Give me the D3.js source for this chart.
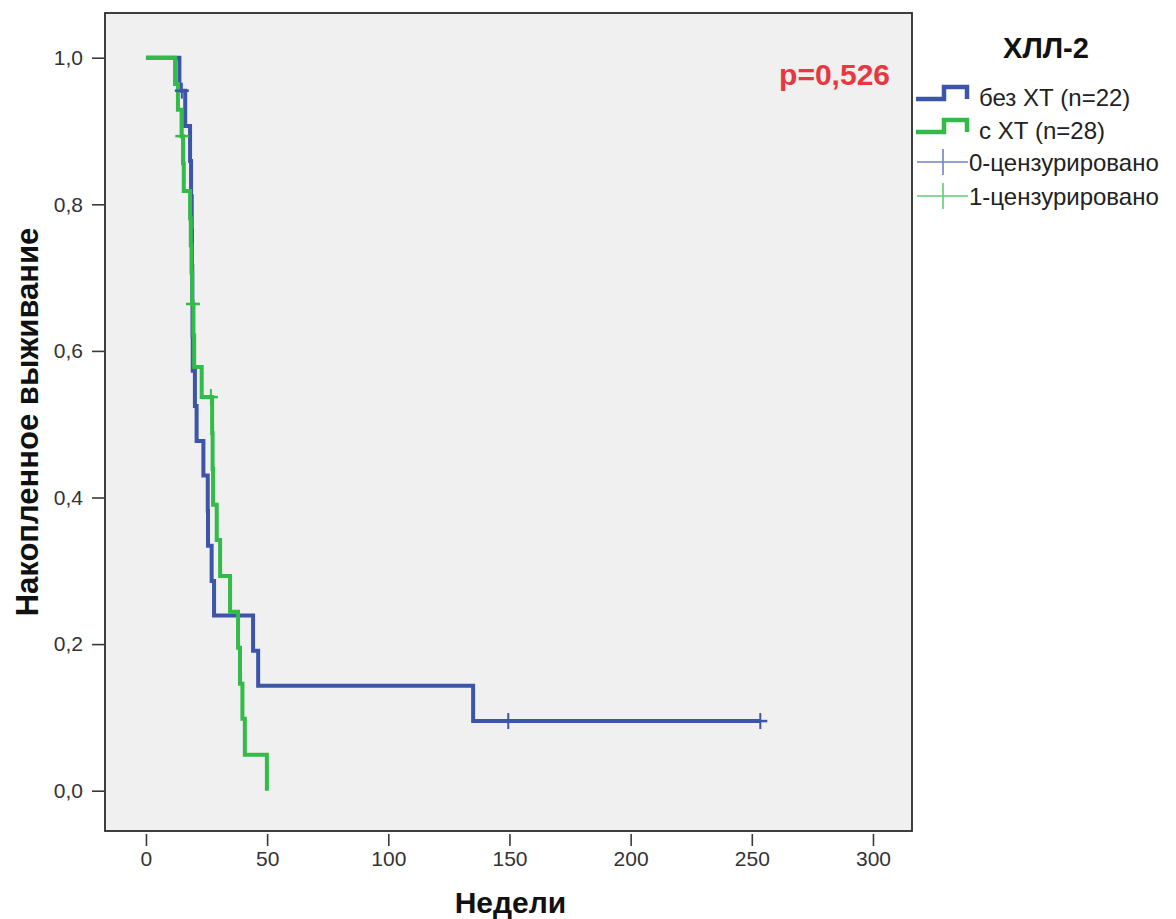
<!DOCTYPE html>
<html><head><meta charset="utf-8">
<script src="https://cdn.jsdelivr.net/npm/d3@7"></script>
<style>body{margin:0;background:#fff} svg{display:block}</style>
</head><body><svg id="c" width="1176" height="919"></svg>
<script>
// ---------- data ----------
const groupTitle = "ХЛЛ-2";
const seriesNames = ["без ХТ (n=22)", "с ХТ (n=28)"];
const censorNames = ["0-цензурировано", "1-цензурировано"];
const pValue = "p=0,526";
const xTitle = "Недели";
const yTitle = "Накопленное выживание";
const xTicks = [0, 50, 100, 150, 200, 250, 300];
const yTicks = [0, 0.2, 0.4, 0.6, 0.8, 1.0];

// без ХТ (blue): step times (weeks) and survival after each step
const blueWeeks = [0, 13.8, 16.2, 18.2, 18.6, 18.9, 19.0, 19.1, 19.2, 19.3, 20.2, 20.9, 23.7, 25.5, 25.6, 27.1, 28.1, 44.2, 46.3, 135.0, 253.5];
const blueSurv  = [1, 0.955, 0.907, 0.859, 0.811, 0.764, 0.716, 0.668, 0.620, 0.573, 0.525, 0.477, 0.430, 0.382, 0.334, 0.286, 0.239, 0.191, 0.143, 0.095, 0.095];
const blueCensWeeks = [14.8, 149.5, 253.5];
const blueCensSurv  = [0.955, 0.095, 0.095];

// с ХТ (green)
const greenWeeks = [0, 12.0, 13.2, 14.7, 15.3, 15.6, 18.2, 18.5, 18.8, 19.1, 19.6, 19.9, 23.0, 27.3, 27.5, 27.7, 29.2, 30.6, 34.7, 38.0, 38.8, 39.8, 40.8, 49.9];
const greenSurv  = [1, 0.964, 0.929, 0.893, 0.856, 0.818, 0.781, 0.744, 0.707, 0.664, 0.621, 0.578, 0.537, 0.488, 0.439, 0.390, 0.342, 0.293, 0.244, 0.195, 0.146, 0.098, 0.049, 0];
const greenCensWeeks = [15.0, 19.4, 26.8];
const greenCensSurv  = [0.893, 0.664, 0.537];

const colors = ["#3d55a8", "#33bb4a"];
const censColors = ["#6f82c6", "#5fcd72"];

// ---------- layout ----------
const svg = d3.select("#c");
const box = {l: 105, t: 13, r: 912, b: 831};
const x = d3.scaleLinear().domain([-16.9, 316.1]).range([box.l, box.r]);
const y = d3.scaleLinear().domain([-0.055, 1.061]).range([box.b, box.t]);
const font = "'Liberation Sans', Arial, sans-serif";

svg.append("rect").attr("x", box.l).attr("y", box.t)
  .attr("width", box.r - box.l).attr("height", box.b - box.t)
  .attr("fill", "#f0f0f0").attr("stroke", "#2b2b2b").attr("stroke-width", 1.8);

// axes
const fmt = v => d3.format(".1f")(v).replace(".", ",");
const yAxis = svg.append("g").attr("transform", `translate(${box.l - 1},0)`)
  .call(d3.axisLeft(y).tickValues(yTicks).tickFormat(fmt).tickSize(12).tickPadding(9));
const xAxis = svg.append("g").attr("transform", `translate(0,${box.b + 3})`)
  .call(d3.axisBottom(x).tickValues(xTicks).tickFormat(d3.format("d")).tickSize(12).tickPadding(5));
[yAxis, xAxis].forEach(g => {
  g.select(".domain").remove();
  g.selectAll(".tick line").attr("stroke", "#3a3a3a").attr("stroke-width", 1.6);
  g.selectAll(".tick text").attr("fill", "#333").style("font-family", font).style("font-size", "21px");
});

// curves
const line = d3.line().x(d => x(d[0])).y(d => y(d[1])).curve(d3.curveStepAfter);
const series = [
  {w: blueWeeks, s: blueSurv, cw: blueCensWeeks, cs: blueCensSurv},
  {w: greenWeeks, s: greenSurv, cw: greenCensWeeks, cs: greenCensSurv}
];
[0, 1].forEach(i => {
  const sr = series[i];
  const pts = sr.w.map((w, k) => [w, sr.s[k]]);
  svg.append("path").attr("d", line(pts)).attr("fill", "none")
    .attr("stroke", colors[i]).attr("stroke-width", 4).attr("stroke-linejoin", "miter");
});
[0, 1].forEach(i => {
  const sr = series[i];
  const g = svg.append("g");
  sr.cw.forEach((w, k) => {
    const cx = x(w), cy = y(sr.cs[k]);
    g.append("line").attr("x1", cx).attr("x2", cx).attr("y1", cy - 8).attr("y2", cy + 8)
      .attr("stroke", colors[i]).attr("stroke-width", 2);
    g.append("line").attr("x1", cx - 7).attr("x2", cx + 7).attr("y1", cy).attr("y2", cy)
      .attr("stroke", colors[i]).attr("stroke-width", 2.5);
  });
});

// p value
svg.append("text").attr("x", 890).attr("y", 85).attr("text-anchor", "end")
  .style("font-family", font).style("font-size", "30px").style("font-weight", "bold")
  .attr("fill", "#e8373f").text(pValue);

// axis titles
svg.append("text").attr("x", (box.l + box.r) / 2 + 2).attr("y", 913).attr("text-anchor", "middle")
  .style("font-family", font).style("font-size", "30px").style("font-weight", "bold")
  .attr("fill", "#111").text(xTitle);
svg.append("text").attr("transform", `translate(38,${(box.t + box.b) / 2}) rotate(-90)`)
  .attr("text-anchor", "middle")
  .style("font-family", font).style("font-size", "31px").style("font-weight", "bold")
  .attr("fill", "#111").text(yTitle);

// legend
const lg = svg.append("g");
lg.append("text").attr("x", 1046).attr("y", 58).attr("text-anchor", "middle")
  .style("font-family", font).style("font-size", "29px").style("font-weight", "bold")
  .attr("fill", "#111").text(groupTitle);
const stepIcon = (y0) => `M916,${y0} H944 V${y0 - 12} H967 V${y0}`;
[0, 1].forEach(i => {
  const yb = 99 + i * 33;
  lg.append("path").attr("d", stepIcon(yb)).attr("fill", "none")
    .attr("stroke", colors[i]).attr("stroke-width", 4.5);
  lg.append("text").attr("x", 979).attr("y", yb + 7)
    .style("font-family", font).style("font-size", "24px").attr("fill", "#222").text(seriesNames[i]);
});
[0, 1].forEach(i => {
  const yc = 162 + i * 34;
  lg.append("line").attr("x1", 917).attr("x2", 968).attr("y1", yc).attr("y2", yc)
    .attr("stroke", censColors[i]).attr("stroke-width", 1.6);
  lg.append("line").attr("x1", 943).attr("x2", 943).attr("y1", yc - 13).attr("y2", yc + 13)
    .attr("stroke", censColors[i]).attr("stroke-width", 1.6);
  lg.append("text").attr("x", 969).attr("y", yc + 9)
    .style("font-family", font).style("font-size", "24px").attr("fill", "#222").text(censorNames[i]);
});
</script></body></html>
